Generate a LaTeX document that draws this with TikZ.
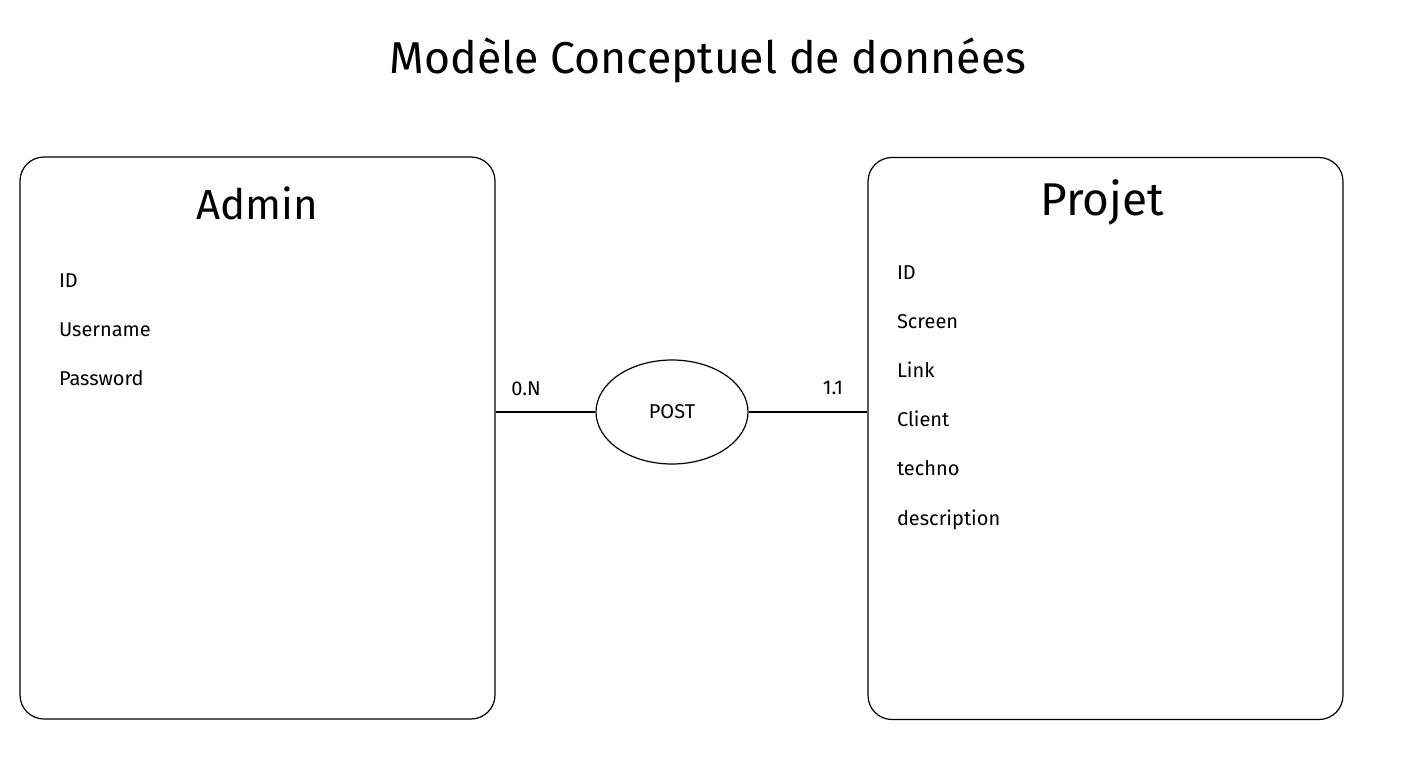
\documentclass[tikz,border=0pt]{standalone}
\usepackage{fontspec}
\setmainfont{Fira Sans}
\usetikzlibrary{positioning,shapes.geometric}

\begin{document}
\begin{tikzpicture}[x=0.5pt,y=-0.5pt,line width=0.6pt,node distance=15pt,every node/.style={font=\fontsize{10}{12}\selectfont},entity/.style={draw,rounded corners=12pt,minimum width=237.5pt,minimum height=281pt,inner sep=0pt},head/.style={font=\fontsize{21}{25}\selectfont},attr/.style={text width=60pt,align=left,inner sep=0pt,text height=7pt,text depth=2pt}]
\useasboundingbox (0,0) rectangle (1418,760);
\node[font=\fontsize{22.3}{27}\selectfont] (title) at (708,60) {Modèle Conceptuel de données};
% entites
\node[entity] (admin) at (257.5,438) {};
\node[entity] (projet) at (1105.5,438.5) {};
\node[head] (admintitle) at (257,203) {Admin};
\node[head,font=\fontsize{23}{27}\selectfont] (projettitle) at (1102,202) {Projet};
\node[attr] (aid) at (119,282) {ID};
\node[attr,below=of aid] (auser) {Username};
\node[attr,below=of auser] (apass) {Password};
\node[attr] (pid) at (957,274) {ID};
\node[attr,below=of pid] (pscreen) {Screen};
\node[attr,below=of pscreen] (plink) {Link};
\node[attr,below=of plink] (pclient) {Client};
\node[attr,below=of pclient] (ptechno) {techno};
\node[attr,below=of ptechno] (pdesc) {description};
% association
\node[draw,ellipse,minimum width=76pt,minimum height=52pt,inner sep=0pt] (post) at (672,412) {POST};
\draw (post.west)--(post.west -| admin.east);\draw (post.east)--(post.east -| projet.west);
\node (cadmin) at (526,389) {0.N};
\node (cprojet) at (833,388) {1.1};
\end{tikzpicture}
\end{document}
